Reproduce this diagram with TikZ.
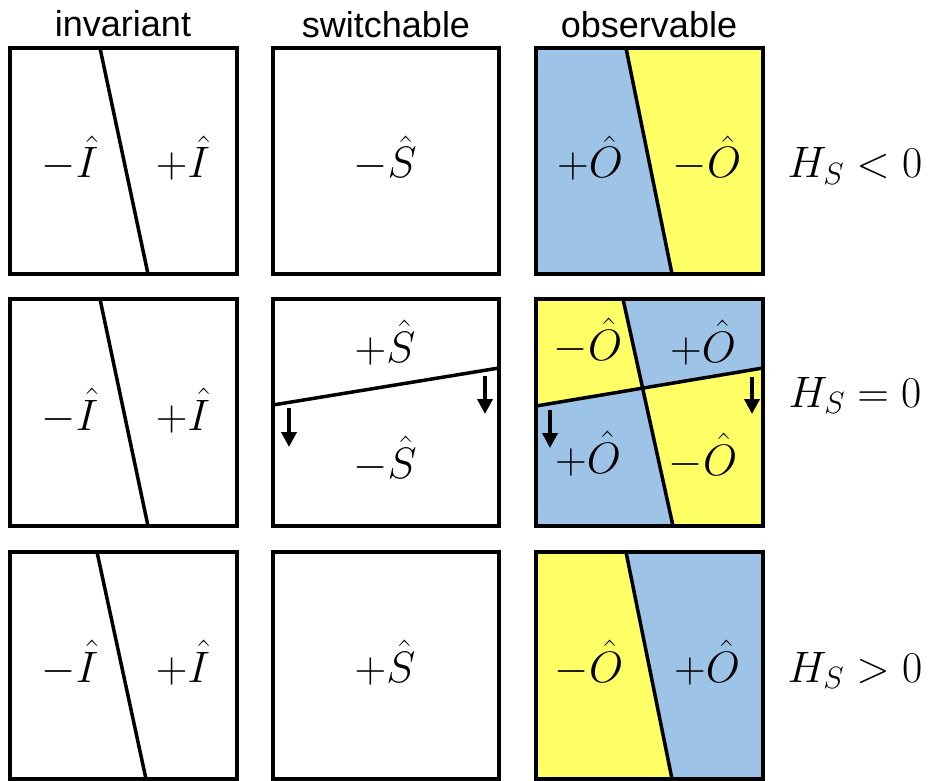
\RequirePackage{fix-cm}
\documentclass[tikz,border=0pt]{standalone}
\usepackage{fontspec}
\newfontfamily\headfont{Liberation Sans}
\usetikzlibrary{arrows.meta}
\definecolor{oblue}{HTML}{9DC3E6}
\definecolor{oyellow}{HTML}{FFFF66}
\tikzset{
  frame/.style={line width=4.5pt, line join=miter},
  divider/.style={line width=3.5pt},
  head/.style={font=\headfont\fontsize{36}{42}\selectfont, anchor=base, inner sep=0pt},
  lab/.style={font=\fontsize{44}{52}\selectfont, anchor=base, inner sep=0pt},
  flip/.style={line width=4pt, -{Triangle[width=15pt,length=15pt]}}
}
\begin{document}
\begin{tikzpicture}[x=1pt,y=-1pt]
\useasboundingbox (0,0) rectangle (937,781);
% headers
\node[head] (h1) at (123,37) {invariant};
\node[head] (h2) at (386,38) {switchable};
\node[head] (h3) at (649,38) {observable};

% ---------- row 1 ----------
\draw[divider] (100,48) -- (148,274);
\draw[frame] (10,48) rectangle (237,274);
\draw[frame] (273,48) rectangle (499,274);
\fill[oblue] (536,48) -- (626,48) -- (672,274) -- (536,274) -- cycle;
\fill[oyellow] (626,48) -- (763,48) -- (763,274) -- (672,274) -- cycle;
\draw[divider] (626,48) -- (672,274);
\draw[frame] (536,48) rectangle (763,274);
\node[lab] (a1) at (70,178) {$-\hat{I}$};
\node[lab] (b1) at (183,178) {$+\hat{I}$};
\node[lab] (c1) at (385,178) {$-\hat{S}$};
\node[lab] (d1) at (590,178) {$+\hat{O}$};
\node[lab] (e1) at (707,178) {$-\hat{O}$};
\node[lab] (f1) at (855,178) {$H_S<0$};

% ---------- row 2 ----------
\draw[divider] (100,299) -- (148,526);
\draw[frame] (10,299) rectangle (237,526);
\draw[divider] (273,405) -- (499,368);
\draw[frame] (273,299) rectangle (499,526);
\coordinate (X) at (intersection of 623,299--673,526 and 536,406--763,368);
\fill[oblue] (536,299) rectangle (763,526);
\fill[oyellow] (536,299) -- (623,299) -- (X) -- (536,406) -- cycle;
\fill[oyellow] (X) -- (763,368) -- (763,526) -- (673,526) -- cycle;
\draw[divider] (623,299) -- (673,526);
\draw[divider] (536,406) -- (763,368);
\draw[frame] (536,299) rectangle (763,526);
\node[lab] (a2) at (70,430) {$-\hat{I}$};
\node[lab] (b2) at (183,430) {$+\hat{I}$};
\node[lab] (c2) at (385,362) {$+\hat{S}$};
\node[lab] (c2b) at (385,478) {$-\hat{S}$};
\node[lab] (d2) at (588,360) {$-\hat{O}$};
\node[lab] (e2) at (703,362) {$+\hat{O}$};
\node[lab] (d2b) at (588,473) {$+\hat{O}$};
\node[lab] (e2b) at (703,475) {$-\hat{O}$};
\node[lab] (f2) at (855,407) {$H_S=0$};
\coordinate (s1a) at (289,408); \coordinate (s1b) at (289,447);
\coordinate (s2a) at (485,376); \coordinate (s2b) at (485,414);
\coordinate (o1a) at (550,410); \coordinate (o1b) at (550,448);
\coordinate (o2a) at (752,377); \coordinate (o2b) at (752,414);
\draw[flip] (s1a) -- (s1b);
\draw[flip] (s2a) -- (s2b);
\draw[flip] (o1a) -- (o1b);
\draw[flip] (o2a) -- (o2b);

% ---------- row 3 ----------
\draw[divider] (97,552) -- (146,779);
\draw[frame] (10,552) rectangle (237,779);
\draw[frame] (273,552) rectangle (499,779);
\fill[oyellow] (536,552) -- (626,552) -- (672,779) -- (536,779) -- cycle;
\fill[oblue] (626,552) -- (763,552) -- (763,779) -- (672,779) -- cycle;
\draw[divider] (626,552) -- (672,779);
\draw[frame] (536,552) rectangle (763,779);
\node[lab] (a3) at (70,682) {$-\hat{I}$};
\node[lab] (b3) at (183,682) {$+\hat{I}$};
\node[lab] (c3) at (385,682) {$+\hat{S}$};
\node[lab] (d3) at (589,682) {$-\hat{O}$};
\node[lab] (e3) at (707,682) {$+\hat{O}$};
\node[lab] (f3) at (855,682) {$H_S>0$};
\end{tikzpicture}
\end{document}
